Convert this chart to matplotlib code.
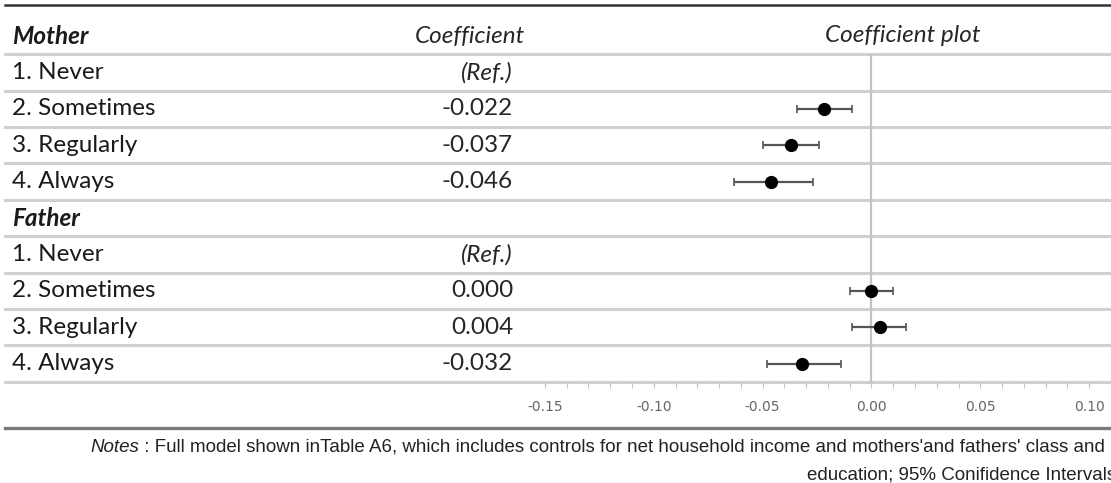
import numpy as np
import matplotlib
matplotlib.use("Agg")
import matplotlib.pyplot as plt
from matplotlib.transforms import blended_transform_factory

# Table rows: group headers and answer categories
row_labels = ["Mother", "1. Never", "2. Sometimes", "3. Regularly", "4. Always",
              "Father", "1. Never", "2. Sometimes", "3. Regularly", "4. Always"]
is_header = [True, False, False, False, False, True, False, False, False, False]
coef_text = ["", "(Ref.)", "-0.022", "-0.037", "-0.046",
             "", "(Ref.)", "0.000", "0.004", "-0.032"]

# Estimates with 95% confidence intervals (rows 2-4 and 7-9)
est_rows = [2, 3, 4, 7, 8, 9]
est = [-0.022, -0.037, -0.046, 0.000, 0.004, -0.032]
ci_low = [-0.034, -0.050, -0.063, -0.010, -0.009, -0.048]
ci_high = [-0.009, -0.024, -0.027, 0.010, 0.016, -0.014]

xticks = [-0.15, -0.10, -0.05, 0.00, 0.05, 0.10]

notes_1 = (" : Full model shown inTable A6, which includes controls for net household "
           "income and mothers'and fathers' class and")
notes_2 = "education; 95% Conifidence Intervals"

W, H = 1111, 483
fig = plt.figure(figsize=(W / 100, H / 100), dpi=100)

# axes span the full width; rows are one unit apart
top_px, bot_px = 54.2, 381.8
ax = fig.add_axes([0, (H - bot_px) / H, 1, (bot_px - top_px) / H])
x0_px, px_per_unit = 876.5, 2190.0
ax.set_xlim(-x0_px / px_per_unit, (W - x0_px) / px_per_unit)
ax.set_ylim(9.5, 0.5)

for s in ax.spines.values():
    s.set_visible(False)
ax.set_yticks([])
ax.set_xticks(xticks)
ax.set_xticklabels(["%.2f" % t for t in xticks])
ax.set_xticks(np.arange(-0.15, 0.115, 0.01), minor=True)
ax.tick_params(axis="x", which="both", direction="out", length=4, width=0.8,
               color="#c4c4c4", labelsize=10, labelcolor="#666666", pad=9)

# zero line
ax.axvline(0, color="#c4c4c4", lw=1.6, zorder=1)

# row separators, top and bottom rules
for k in range(10):
    ax.axhline(k + 0.5, xmin=5 / W, xmax=1, color="#d0d0d0", lw=2.2,
               clip_on=False, zorder=0)
ax.axhline(-0.85, xmin=5 / W, xmax=1, color="#333333", lw=1.8, clip_on=False)
ax.axhline(10.77, xmin=5 / W, xmax=1, color="#7a7a7a", lw=2.4, clip_on=False)

# coefficient plot
err = [np.array(est) - np.array(ci_low), np.array(ci_high) - np.array(est)]
ax.errorbar(est, est_rows, xerr=err, fmt="o", color="black", ms=8.5,
            ecolor="#555555", elinewidth=1.6, capsize=3, capthick=1.2, zorder=3)

# table text
tr = blended_transform_factory(ax.transAxes, ax.transData)
fam = ["Lato", "DejaVu Sans"]
fs = 17.5
for i, (lab, hdr, c) in enumerate(zip(row_labels, is_header, coef_text)):
    ax.text(12 / W, i, lab, transform=tr, ha="left", va="center", fontsize=fs,
            family=fam, color="#1a1a1a",
            fontweight="bold" if hdr else "normal",
            fontstyle="italic" if hdr else "normal", clip_on=False)
    if c:
        ax.text(513 / W, i, c, transform=tr, ha="right", va="center", fontsize=fs,
                family=fam, color="#262626",
                fontstyle="italic" if c.startswith("(") else "normal", clip_on=False)

ax.text(470 / W, 0, "Coefficient", transform=tr, ha="center", va="center",
        fontsize=fs, family=fam, fontstyle="italic", color="#262626")
ax.text(903 / W, 0, "Coefficient plot", transform=tr, ha="center", va="center",
        fontsize=fs, family=fam, fontstyle="italic", color="#262626")

# notes under the table
nfam = ["Liberation Sans", "DejaVu Sans"]
nfs = 13.5
t_notes = fig.text(90 / W, 1 - 447 / H, "Notes", fontsize=nfs, family=nfam,
                   fontstyle="italic", va="center", ha="left", color="#222222")
bb = t_notes.get_window_extent(renderer=fig.canvas.get_renderer())
fig.text(bb.x1 / W, 1 - 447 / H, notes_1, fontsize=nfs, family=nfam,
         va="center", ha="left", color="#222222")
fig.text(1116 / W, 1 - 475 / H, notes_2, fontsize=nfs, family=nfam,
         va="center", ha="right", color="#222222")

fig.savefig("out.png", dpi=100)
